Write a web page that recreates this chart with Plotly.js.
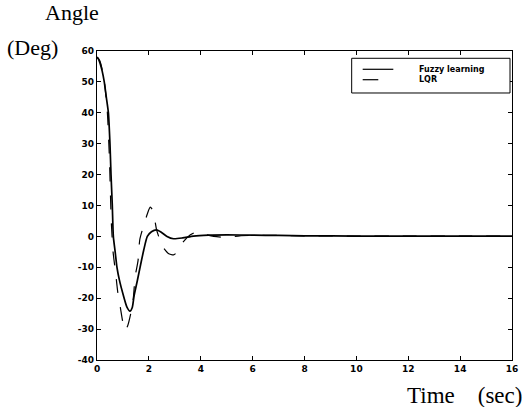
<!DOCTYPE html>
<html>
<head>
<meta charset="utf-8">
<script src="https://cdn.plot.ly/plotly-3.0.1.min.js"></script>
<style>html,body{margin:0;padding:0;background:#fff;}#chart{width:527px;height:407px;}</style>
</head>
<body>
<div id="chart"></div>
<script>
const fuzzyTime = [0, 0.05, 0.12, 0.2, 0.28, 0.36, 0.44, 0.5, 0.54, 0.59, 0.63, 0.7, 0.77, 0.86, 1.02, 1.15, 1.27, 1.36, 1.43, 1.55, 1.66, 1.8, 1.94, 2.1, 2.3, 2.5, 2.7, 2.95, 3.3, 3.72, 4.3, 5, 6, 7, 8, 10, 12, 14, 16];
const fuzzyAngle = [58, 57.5, 56, 53.5, 50, 45, 40, 30, 20, 10, 0, -5, -10, -14, -19.2, -22.8, -24.2, -23, -19.2, -14.5, -10, -4.5, 0, 1.5, 2.1, 1.2, 0, -0.75, -0.5, 0.1, 0.4, 0.5, 0.4, 0.3, 0.2, 0.1, 0.1, 0.1, 0.1];

const lqrTime = [0, 0.1, 0.2, 0.3, 0.4, 0.48, 0.55, 0.62, 0.72, 0.8, 0.9, 1.0, 1.08, 1.18, 1.3, 1.4, 1.47, 1.58, 1.65, 1.78, 1.95, 2.05, 2.15, 2.3, 2.4, 2.55, 2.75, 2.95, 3.1, 3.3, 3.6, 3.85, 4.1, 4.5, 5, 5.5, 6, 7, 8, 10, 12, 14, 16];
const lqrAngle = [58, 57, 54, 49, 40, 25, 5, -5, -12, -18, -23, -28, -30.5, -29, -25, -20, -13, -8, -1, 3, 7.5, 9.5, 8.5, 2, -0.5, -3.5, -5.5, -6, -5, -2, 0.5, 1.5, 0.8, 0, -0.3, 0.2, 0.3, 0.3, 0.2, 0.1, 0.1, 0.1, 0.1];

const seriesNames = ["Fuzzy learning", "LQR"];
const xTicks = [0, 2, 4, 6, 8, 10, 12, 14, 16];
const yTicks = [-40, -30, -20, -10, 0, 10, 20, 30, 40, 50, 60];

const fuzzyLine = {color: "#000", width: 1.7};
const lqrLine = {color: "#000", width: 1.2, dash: "14px,14px"};

const traces = [
  {x: fuzzyTime, y: fuzzyAngle, name: seriesNames[0], mode: "lines",
   line: Object.assign({shape: "spline", smoothing: 0.6}, fuzzyLine)},
  {x: lqrTime, y: lqrAngle, name: seriesNames[1], mode: "lines",
   line: Object.assign({shape: "spline", smoothing: 0.6}, lqrLine)}
];

const tickFont = {family: "DejaVu Sans, Arial, sans-serif", size: 9, color: "#000", weight: "bold"};
const serif = {family: "Liberation Serif, Times New Roman, serif", size: 22, color: "#000"};
const legendFont = {family: "DejaVu Sans, Arial, sans-serif", size: 8, color: "#000", weight: "bold"};

// manual compact legend (paper coordinates)
const legBox = {x0: 0.6137, x1: 0.9952, y0: 0.8641, y1: 0.9764};
const legRows = [0.9408, 0.9071];
const legLineX = [0.6402, 0.714, 0.6778];
const legTextX = 0.7704;
const legTextY = 0.9233;

const layout = {
  width: 527, height: 407,
  margin: {l: 97, r: 15, t: 51, b: 47},
  paper_bgcolor: "#fff", plot_bgcolor: "#fff",
  showlegend: false,
  xaxis: {range: [0, 16], tickvals: xTicks, ticktext: xTicks.map(String),
    ticks: "inside", ticklen: 4, tickcolor: "#000", mirror: "ticks",
    showline: true, linecolor: "#000", linewidth: 1.2, showgrid: false, zeroline: false,
    tickfont: tickFont},
  yaxis: {range: [-40, 60], tickvals: yTicks, ticktext: yTicks.map(String),
    ticks: "inside", ticklen: 4, tickcolor: "#000", mirror: "ticks",
    showline: true, linecolor: "#000", linewidth: 1.2, showgrid: false, zeroline: false,
    tickfont: tickFont},
  shapes: [
    {type: "rect", xref: "paper", yref: "paper", x0: legBox.x0, x1: legBox.x1, y0: legBox.y0, y1: legBox.y1,
     line: {color: "#000", width: 1}, fillcolor: "#fff", layer: "above"},
    {type: "line", xref: "paper", yref: "paper", x0: legLineX[0], x1: legLineX[1], y0: legRows[0], y1: legRows[0],
     line: {color: "#000", width: 1.2}, layer: "above"},
    {type: "line", xref: "paper", yref: "paper", x0: legLineX[0], x1: legLineX[2], y0: legRows[1], y1: legRows[1],
     line: {color: "#000", width: 1.2}, layer: "above"}
  ],
  annotations: [
    {text: seriesNames.join("<br>"), xref: "paper", yref: "paper", x: legTextX, y: legTextY, xanchor: "left", yanchor: "middle", align: "left", showarrow: false, font: legendFont},
    {text: "Angle", xref: "paper", yref: "paper", x: -0.0614, y: 1.1246, xanchor: "center", yanchor: "middle", showarrow: false, font: serif},
    {text: "(Deg)", xref: "paper", yref: "paper", x: -0.2217, y: 1.0113, xanchor: "left", yanchor: "middle", showarrow: false, font: serif},
    {text: "Time&nbsp;&nbsp;&nbsp;&nbsp;(sec)", xref: "paper", yref: "paper", x: 1.03, y: -0.1165, xanchor: "right", yanchor: "middle", showarrow: false,
     font: Object.assign({}, serif, {size: 23})}
  ]
};

Plotly.newPlot("chart", traces, layout, {displayModeBar: false, staticPlot: true});
</script>
</body>
</html>
